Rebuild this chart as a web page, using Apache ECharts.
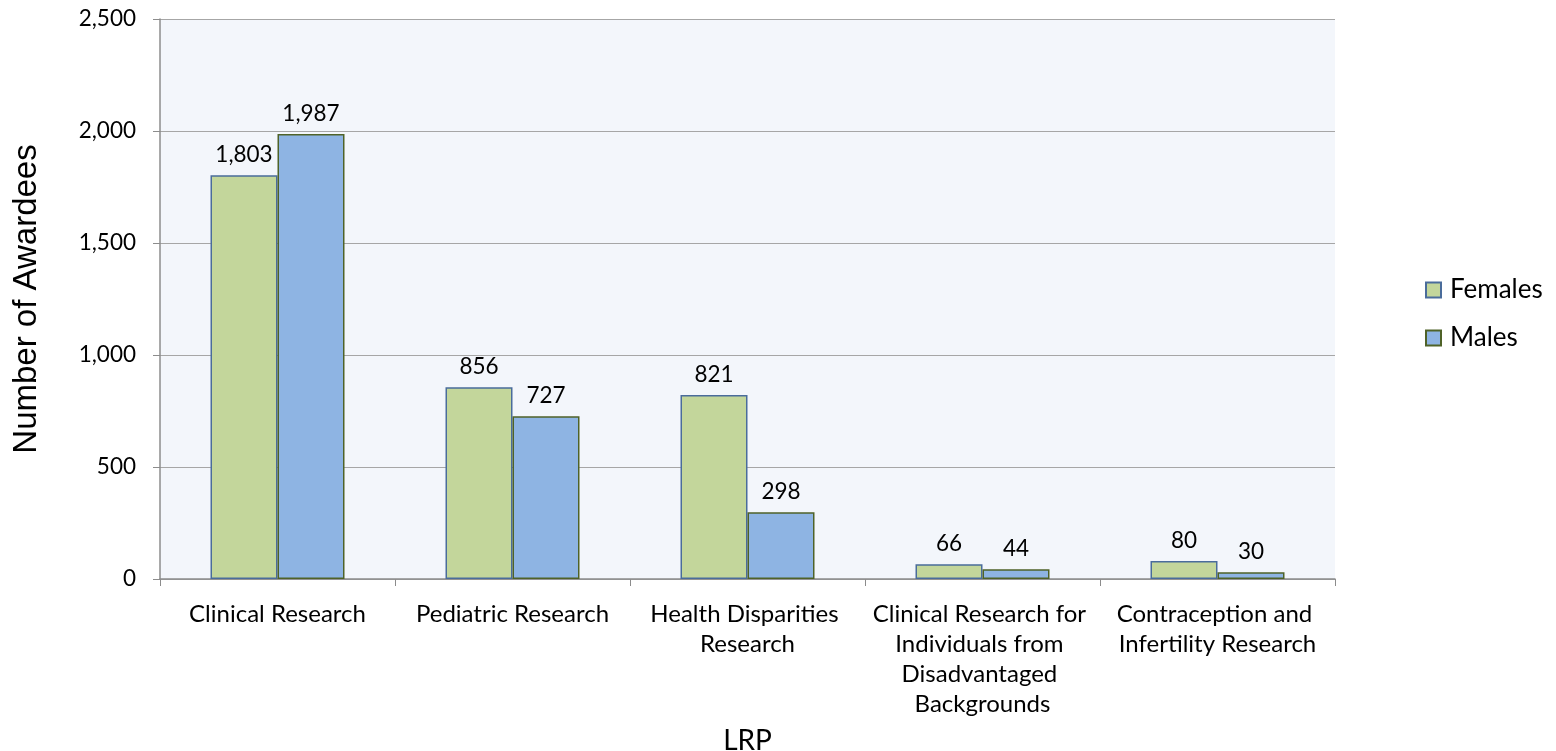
<!DOCTYPE html>
<html lang="en">
<head>
    <meta charset="UTF-8">
    <title>LRP Awardees</title>
    <script src="https://cdn.jsdelivr.net/npm/echarts@6/dist/echarts.min.js"></script>
    <style>
        html, body { margin: 0; padding: 0; background: #fff; }
        #chart { width: 1556px; height: 751px; }
    </style>
</head>
<body>
    <div id="chart"></div>
    <script>
        var categories = [
            'Clinical Research',
            'Pediatric Research',
            'Health Disparities Research',
            'Clinical Research for Individuals from Disadvantaged Backgrounds',
            'Contraception and Infertility Research'
        ];
        var females = [1803, 856, 821, 66, 80];
        var males = [1987, 727, 298, 44, 30];
        var yTicks = [0, 500, 1000, 1500, 2000, 2500];

        var font = 'Lato, "Open Sans", sans-serif';
        var axisGray = '#8c8c8c';

        function fmt(v) {
            return v.toLocaleString('en-US');
        }

        var valueLabel = {
            show: true, position: 'top', distance: 9,
            fontFamily: font, fontSize: 22.5, color: '#000',
            formatter: function (p) { return fmt(p.value); }
        };

        var chart = echarts.init(document.getElementById('chart'));
        chart.setOption({
            animation: false,
            grid: {
                left: 160, right: 221, top: 19, bottom: 172,
                outerBoundsMode: 'none',
                containLabel: false,
                show: true, backgroundColor: '#f3f6fb', borderWidth: 0
            },
            legend: {
                orient: 'vertical',
                left: 1420,
                top: 272,
                itemGap: 22,
                itemWidth: 15,
                itemHeight: 15,
                icon: 'rect',
                textStyle: { fontFamily: font, fontSize: 26, color: '#000', padding: [0, 0, 0, 4] },
                data: ['Females', 'Males']
            },
            xAxis: {
                type: 'category',
                data: categories,
                name: 'LRP',
                nameLocation: 'middle',
                nameGap: 148,
                nameTextStyle: { fontFamily: font, fontSize: 28, color: '#000' },
                axisLine: { lineStyle: { color: axisGray, width: 1.5 } },
                axisTick: { show: true, length: 7, alignWithLabel: false, lineStyle: { color: axisGray } },
                axisLabel: {
                    interval: 0,
                    margin: 20,
                    fontFamily: font,
                    fontSize: 24,
                    color: '#000',
                    lineHeight: 30,
                    width: 228,
                    overflow: 'break'
                }
            },
            yAxis: {
                type: 'value',
                min: yTicks[0],
                max: yTicks[yTicks.length - 1],
                interval: 500,
                name: 'Number of Awardees',
                nameLocation: 'middle',
                nameGap: 117,
                nameTextStyle: { fontFamily: '"Liberation Sans", Arial, sans-serif', fontSize: 33, color: '#000' },
                axisLine: { show: true, lineStyle: { color: axisGray, width: 1.5 } },
                axisTick: { show: true, inside: false, length: 7, lineStyle: { color: axisGray } },
                splitLine: { lineStyle: { color: '#a6a6a6', width: 1.2 } },
                axisLabel: {
                    margin: 24,
                    fontFamily: font,
                    fontSize: 22.5,
                    color: '#000',
                    formatter: function (v) { return fmt(v); }
                }
            },
            series: [
                {
                    name: 'Females',
                    type: 'bar',
                    data: females,
                    barWidth: 67,
                    barGap: '0%',
                    itemStyle: { color: '#c3d69b', borderColor: '#4a6c9b', borderWidth: 1.5 },
                    label: valueLabel
                },
                {
                    name: 'Males',
                    type: 'bar',
                    data: males,
                    barWidth: 67,
                    barGap: '0%',
                    itemStyle: { color: '#8eb4e3', borderColor: '#4f6228', borderWidth: 1.5 },
                    label: valueLabel
                }
            ]
        });
    </script>
</body>
</html>
